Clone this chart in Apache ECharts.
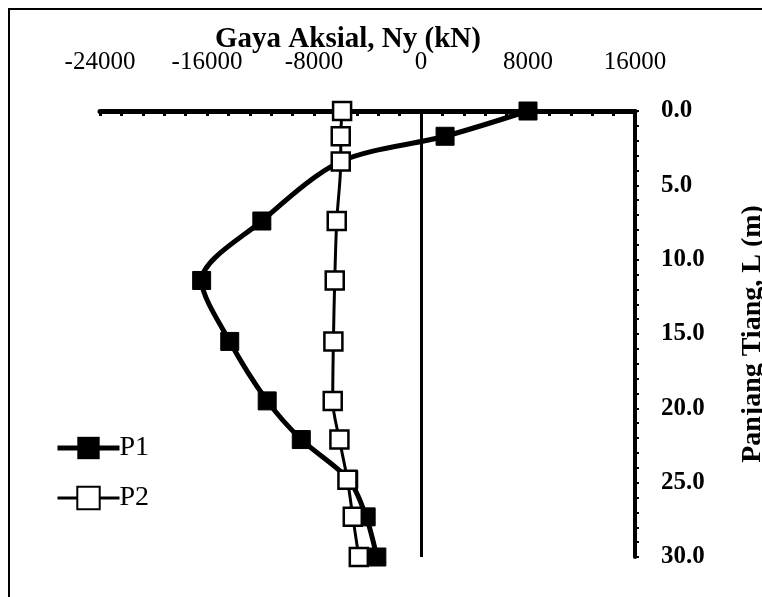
<!DOCTYPE html>
<html>
<head>
<meta charset="utf-8">
<script src="https://cdn.jsdelivr.net/npm/echarts@6/dist/echarts.min.js"></script>
<style>
  html, body { margin: 0; padding: 0; background: #fff; }
  #chart { width: 762px; height: 597px; }
</style>
</head>
<body>
<div id="chart"></div>
<script>
// kedalaman titik (m) dan gaya aksial (kN)
var depth = [0, 1.7, 3.4, 7.4, 11.4, 15.5, 19.5, 22.1, 24.8, 27.3, 30];
var p1 = [8000, 1800, -6000, -11900, -16400, -14300, -11500, -8950, -5400, -4100, -3300];
var p2 = [-5900, -6000, -6000, -6300, -6450, -6550, -6600, -6100, -5500, -5100, -4650];
var xTicks = [-24000, -16000, -8000, 0, 8000, 16000];
var yTicks = [0, 5, 10, 15, 20, 25, 30];

function pairs(vals) {
  return vals.map(function (v, i) { return [v, depth[i]]; });
}

var font = 'Liberation Serif';
var chart = echarts.init(document.getElementById('chart'));

chart.setOption({
  animation: false,
  backgroundColor: '#fff',
  title: {
    text: 'Gaya Aksial, Ny (kN)',
    left: 210,
    top: 20,
    textStyle: { fontFamily: font, fontSize: 29, fontWeight: 'bold', color: '#000' }
  },
  graphic: [{
    type: 'rect',
    shape: { x: 9, y: 9, width: 800, height: 620 },
    style: { fill: null, stroke: '#000', lineWidth: 2 }
  }],
  legend: {
    orient: 'vertical',
    left: 50,
    top: 429,
    itemWidth: 62,
    itemHeight: 28,
    itemGap: 22,
    textStyle: { fontFamily: font, fontSize: 28, color: '#000', padding: [0, 0, 0, -5] },
    data: [
      { name: 'P1', lineStyle: { width: 5, color: '#000' } },
      { name: 'P2', lineStyle: { width: 3, color: '#000' } }
    ]
  },
  grid: { left: 100, right: 127, top: 111, bottom: 40, outerBoundsMode: 'none', containLabel: false },
  xAxis: {
    type: 'value',
    position: 'top',
    min: xTicks[0],
    max: xTicks[xTicks.length - 1],
    interval: 8000,
    splitLine: { show: false },
    axisLine: { onZero: false, lineStyle: { color: '#000', width: 5 } },
    axisTick: { show: true, inside: true, length: 5, lineStyle: { color: '#000', width: 3 } },
    minorTick: { show: true, splitNumber: 5, length: 5, lineStyle: { color: '#000', width: 3 } },
    axisLabel: {
      margin: 36, fontFamily: font, fontSize: 25, color: '#000',
      formatter: function (v) { return String(v); }
    }
  },
  yAxis: {
    type: 'value',
    position: 'right',
    inverse: true,
    min: yTicks[0],
    max: yTicks[yTicks.length - 1],
    interval: 5,
    splitLine: { show: false },
    axisLine: { onZero: false, lineStyle: { color: '#000', width: 4 } },
    axisTick: { show: true, length: 4, lineStyle: { color: '#000', width: 2 } },
    minorTick: { show: true, splitNumber: 5, length: 4, lineStyle: { color: '#000', width: 2 } },
    axisLabel: {
      margin: 26, fontFamily: font, fontSize: 25, fontWeight: 'bold', color: '#000',
      formatter: function (v) { return v.toFixed(1); }
    },
    name: 'Panjang Tiang, L (m)',
    nameLocation: 'middle',
    nameRotate: 90,
    nameGap: 104,
    nameTextStyle: { fontFamily: font, fontSize: 28, fontWeight: 'bold', color: '#000' }
  },
  series: [
    {
      name: 'P1',
      type: 'line',
      data: pairs(p1),
      smooth: 0.3,
      symbol: 'rect',
      symbolSize: 18,
      itemStyle: { color: '#000', borderColor: '#000' },
      lineStyle: { color: '#000', width: 5 },
      markLine: {
        silent: true,
        symbol: 'none',
        label: { show: false },
        lineStyle: { color: '#000', width: 3, type: 'solid' },
        data: [{ xAxis: 0 }]
      }
    },
    {
      name: 'P2',
      type: 'line',
      data: pairs(p2),
      smooth: 0.3,
      symbol: 'rect',
      symbolSize: 18,
      itemStyle: { color: '#fff', borderColor: '#000', borderWidth: 2.5 },
      lineStyle: { color: '#000', width: 3 }
    }
  ]
});
</script>
</body>
</html>
